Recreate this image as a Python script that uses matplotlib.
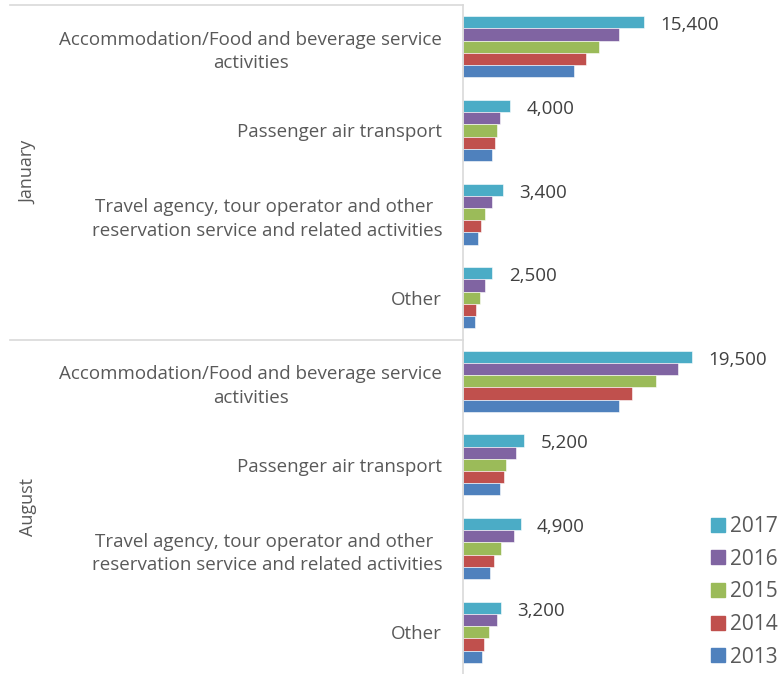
import matplotlib.pyplot as plt
from matplotlib.lines import Line2D

plt.rcParams['font.family'] = ['Open Sans', 'DejaVu Sans']

# data (values in persons)
months = ['January', 'August']
categories = ['Accommodation/Food and beverage service\nactivities',
              'Passenger air transport',
              'Travel agency, tour operator and other \nreservation service and related activities',
              'Other']
years = ['2017', '2016', '2015', '2014', '2013']
colors = ['#4BACC6', '#8064A2', '#9BBB59', '#C0504D', '#4F81BD']

jan_2017 = [15400, 4000, 3400, 2500]
jan_2016 = [13300, 3150, 2450, 1870]
jan_2015 = [11600, 2860, 1850, 1450]
jan_2014 = [10450, 2750, 1560, 1130]
jan_2013 = [9450, 2440, 1250, 1050]

aug_2017 = [19500, 5200, 4900, 3200]
aug_2016 = [18300, 4470, 4360, 2860]
aug_2015 = [16400, 3630, 3230, 2210]
aug_2014 = [14400, 3450, 2630, 1760]
aug_2013 = [13300, 3140, 2320, 1640]

series = [jan_2017 + aug_2017, jan_2016 + aug_2016, jan_2015 + aug_2015,
          jan_2014 + aug_2014, jan_2013 + aug_2013]
labels = categories + categories

W, H = 784, 674
fig = plt.figure(figsize=(W / 100, H / 100), dpi=100)
ax = fig.add_axes([463 / W, 0, 1 - 463 / W, 1 - 5 / H])

n = len(labels)
bh = 0.146
ypos = [i + 0.5 for i in range(n)]
for k, (vals, c) in enumerate(zip(series, colors)):
    off = (k - 2) * bh
    ax.barh([y + off for y in ypos], vals, height=bh, color=c,
            edgecolor='white', linewidth=0.4, label=years[k])

# value labels on the 2017 bars
for y, v in zip(ypos, series[0]):
    ax.text(v + 1400, y - 2 * bh + 0.035, f'{v:,}', va='center', ha='left',
            fontsize=13.5, color='#404040')

ax.set_xlim(0, 27300)
ax.set_ylim(n, 0)
ax.set_xticks([])
ax.set_yticks(ypos)
ax.set_yticklabels(labels, fontsize=13.5, color='#595959', ha='right',
                   multialignment='center')
for t in ax.get_yticklabels():
    t.set_linespacing(1.4)
ax.tick_params(axis='y', length=0, pad=15)
for s in ['top', 'right', 'bottom']:
    ax.spines[s].set_visible(False)
ax.spines['left'].set_color('#d9d9d9')
ax.spines['left'].set_linewidth(1.2)

# month group separators and labels
tr = ax.get_yaxis_transform()
for y0 in [0, 4]:
    ax.plot([-1.41, 0], [y0, y0], color='#d9d9d9', lw=1.2,
            transform=tr, clip_on=False)
for m, yc in zip(months, [2, 6]):
    ax.text(-1.355, yc, m, rotation=90, ha='center', va='center',
            fontsize=13, color='#595959', transform=tr)

handles = [Line2D([], [], marker='s', linestyle='', markersize=10.5,
                  color=c) for c in colors]
fig.legend(handles, years, loc='upper left',
           bbox_to_anchor=(707.6 / W, 1 - 516 / H),
           frameon=False, fontsize=15, labelcolor='#595959',
           borderpad=0, borderaxespad=0,
           handletextpad=0.08, labelspacing=0.56, handlelength=1.0)

fig.savefig('out.png', dpi=100)
